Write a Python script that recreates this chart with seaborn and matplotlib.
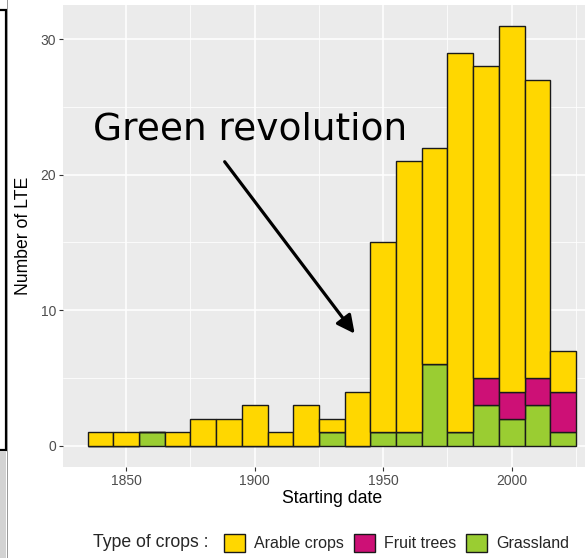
import numpy as np
import pandas as pd
import seaborn as sns
import matplotlib.pyplot as plt
from matplotlib.patches import Rectangle, Patch
from matplotlib.ticker import MultipleLocator

# decade bins (starting year of experiments)
bin_edges = list(range(1835, 2026, 10))
bin_mids = [e + 5 for e in bin_edges[:-1]]

crop_types = ["Arable crops", "Fruit trees", "Grassland"]
crop_colors = ["#FFD700", "#CD1076", "#9ACD32"]

arable = [1, 1, 0, 1, 2, 2, 3, 1, 3, 1, 4, 14, 20, 16, 28, 23, 27, 22, 3]
fruit = [0, 0, 0, 0, 0, 0, 0, 0, 0, 0, 0, 0, 0, 0, 0, 2, 2, 2, 3]
grass = [0, 0, 1, 0, 0, 0, 0, 0, 0, 1, 0, 1, 1, 6, 1, 3, 2, 3, 1]

rows = []
for name, vals in zip(crop_types, [arable, fruit, grass]):
    for mid, v in zip(bin_mids, vals):
        rows.append({"start": mid, "type": name, "n": v})
df = pd.DataFrame(rows)

sns.set_theme(style="darkgrid", rc={
    "axes.facecolor": "#EBEBEB",
    "grid.color": "white",
    "figure.facecolor": "white",
})
plt.rcParams["font.family"] = ["Liberation Sans", "DejaVu Sans"]

fig = plt.figure(figsize=(5.85, 5.58), dpi=100)
ax = fig.add_axes([0.1082, 0.1636, 0.918, 0.828])

sns.histplot(data=df, x="start", weights="n", hue="type", hue_order=crop_types,
             multiple="stack", bins=bin_edges, palette=crop_colors,
             edgecolor="#1a1a1a", linewidth=1.0, alpha=1, legend=False, ax=ax)

ax.set_xlim(1825.5, 2034.5)
ax.set_ylim(-1.55, 32.55)
ax.set_xticks([1850, 1900, 1950, 2000])
ax.set_yticks([0, 10, 20, 30])
ax.xaxis.set_minor_locator(MultipleLocator(25))
ax.yaxis.set_minor_locator(MultipleLocator(5))
ax.grid(which="major", color="white", linewidth=1.1)
ax.grid(which="minor", color="white", linewidth=0.55)
ax.tick_params(which="major", length=3, width=0.8, color="#333333",
               labelsize=10, labelcolor="#4D4D4D", pad=2,
               bottom=True, left=True)
ax.tick_params(which="minor", length=0)
for s in ax.spines.values():
    s.set_visible(False)

ax.set_xlabel("Starting date", fontsize=12.7, color="black", labelpad=2)
ax.set_ylabel("Number of LTE", fontsize=12.7, color="black", labelpad=6)

ax.text(1836.9, 22.6, "Green revolution", fontsize=27, family="DejaVu Sans",
        ha="left", va="baseline", color="black")
ax.annotate("", xy=(1938.9, 8.27), xytext=(1888.3, 20.96),
            arrowprops=dict(arrowstyle="-|>,head_length=0.9,head_width=0.45",
                            color="black", lw=2.3, shrinkA=0, shrinkB=0))

# legend at the bottom
handles = [Patch(facecolor=c, edgecolor="#1a1a1a", linewidth=1.0) for c in crop_colors]
fig.text(93 / 585, 0.027, "Type of crops :", fontsize=12.7, ha="left", va="center")
fig.legend(handles, crop_types, loc="center", bbox_to_anchor=(0.678, 0.027),
           ncol=3, frameon=False, fontsize=11.5, handlelength=1.28,
           handleheight=1.28, handletextpad=0.58, columnspacing=0.63)

# cropped neighbour panel at the left edge
fig.patches.append(Rectangle((-0.01, (558 - 450) / 558), 0.01 + 6 / 585, 440 / 558,
                             transform=fig.transFigure, facecolor="white",
                             edgecolor="black", linewidth=1.6, figure=fig))
fig.patches.append(Rectangle((0, 0), 6 / 585, (558 - 451) / 558,
                             transform=fig.transFigure, facecolor="#D3D3D3",
                             edgecolor="none", figure=fig))
fig.patches.append(Rectangle((6.5 / 585, 0), 1.2 / 585, 1,
                             transform=fig.transFigure, facecolor="#9a9a9a",
                             edgecolor="none", figure=fig))

fig.savefig("out.png", dpi=100)
